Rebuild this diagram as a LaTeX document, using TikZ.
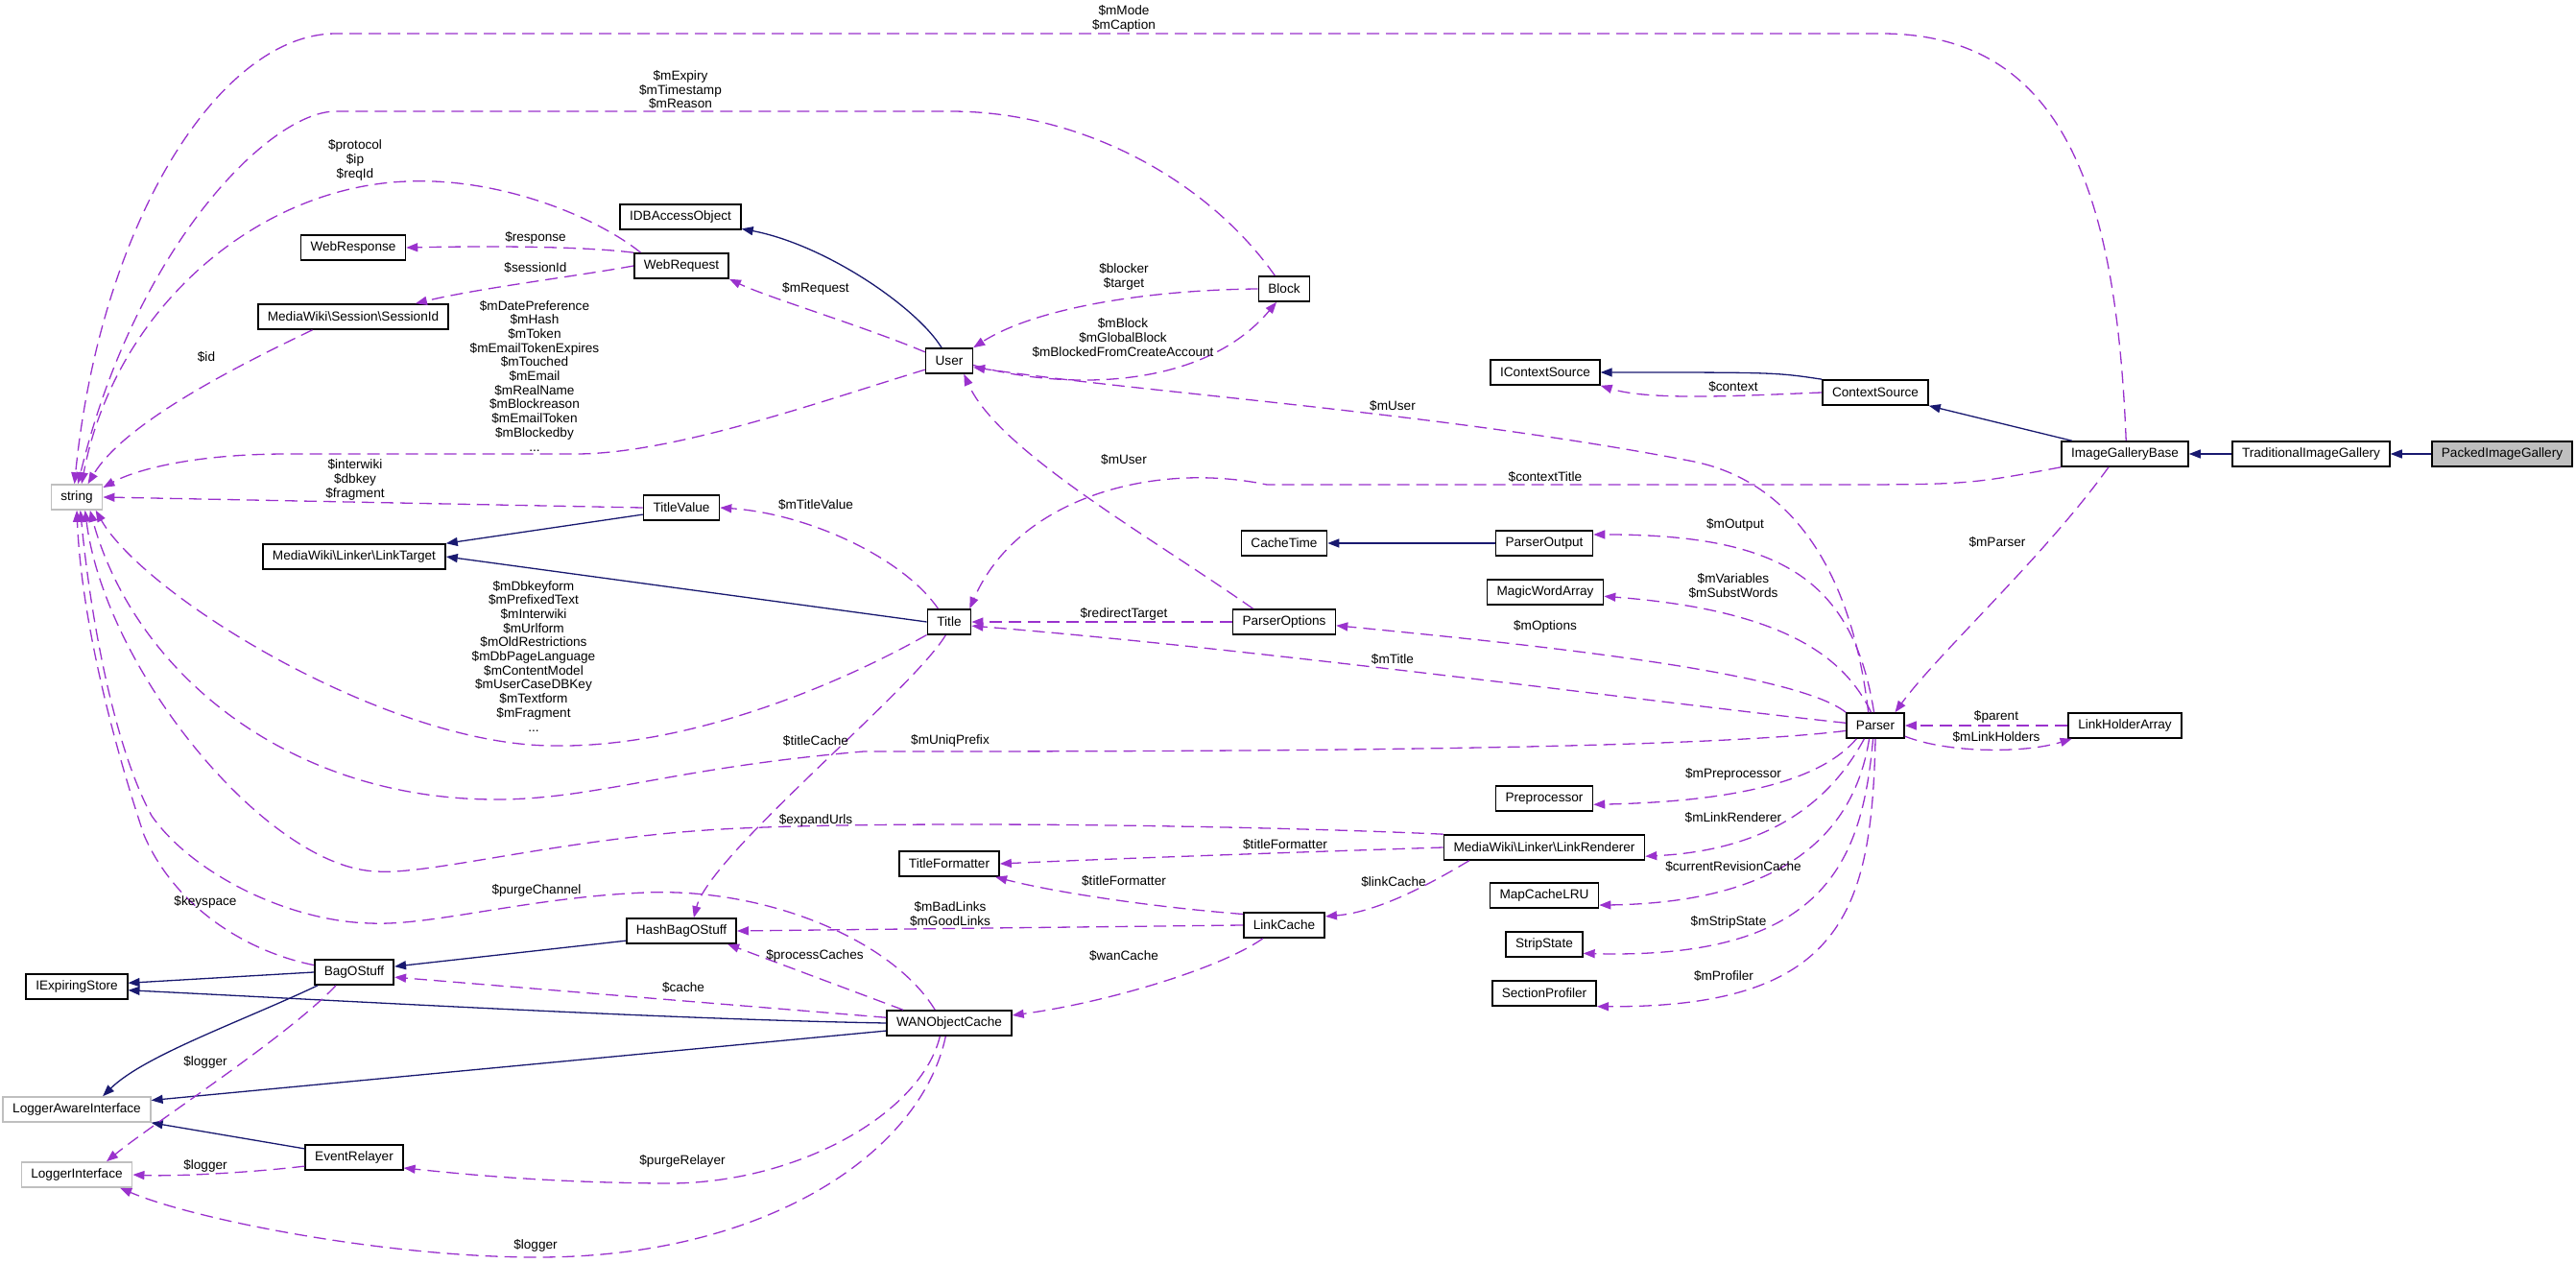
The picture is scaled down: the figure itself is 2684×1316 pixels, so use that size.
\documentclass[tikz,border=0pt]{standalone}
\usepackage{fontspec}
\setmainfont{Liberation Sans}
\usepackage{tikz}
\usetikzlibrary{arrows.meta}
\definecolor{usecol}{HTML}{9A32CD}
\definecolor{isacol}{HTML}{191970}
\definecolor{extgray}{HTML}{BFBFBF}
\newcommand{\dox}{\fontsize{6.8pt}{7.35pt}\selectfont}

\begin{document}
\begin{tikzpicture}[x=0.5pt, y=-0.5pt,
  cls/.style={draw=black, fill=white, line width=0.8pt, minimum height=13pt, inner xsep=5pt, inner ysep=0pt, font=\dox},
  ext/.style={cls, draw=extgray},
  focus/.style={cls, fill=extgray},
  lbl/.style={font=\dox, align=center, inner sep=0pt},
  uses/.style={draw=usecol, line width=0.65pt, dash pattern=on 6.5pt off 3.5pt, -{Triangle[length=6pt,width=4.5pt]}},
  isa/.style={draw=isacol, line width=0.65pt, -{Triangle[length=6pt,width=4.5pt]}}]

\useasboundingbox (0,0) rectangle (2684,1316);

% classes, right part
\node[focus] (packed) at (2607,473) {PackedImageGallery};
\node[cls] (trad) at (2408,473) {TraditionalImageGallery};
\node[cls] (igbase) at (2214,473) {ImageGalleryBase};
\node[cls] (ctxsrc) at (1954,409) {ContextSource};
\node[cls] (ictx) at (1610,388) {IContextSource};
\node[cls] (parser) at (1954,756) {Parser};
\node[cls] (lha) at (2214,756) {LinkHolderArray};

% classes, middle part
\node[cls] (user) at (989,376) {User};
\node[cls] (block) at (1338,301) {Block};
\node[cls] (idb) at (709,226) {IDBAccessObject};
\node[cls] (webreq) at (710,277) {WebRequest};
\node[cls] (webresp) at (368,258) {WebResponse};
\node[cls] (sessid) at (368,330) {MediaWiki\textbackslash Session\textbackslash SessionId};
\node[ext] (string) at (80,518) {string};
\node[cls] (tvalue) at (710,529) {TitleValue};
\node[cls] (ltarget) at (369,580) {MediaWiki\textbackslash Linker\textbackslash LinkTarget};
\node[cls] (title) at (989,648) {Title};
\node[cls] (popts) at (1338,648) {ParserOptions};
\node[cls] (ctime) at (1338,566) {CacheTime};
\node[cls] (pout) at (1609,566) {ParserOutput};
\node[cls] (mwarr) at (1610,617) {MagicWordArray};
\node[cls] (preproc) at (1609,832) {Preprocessor};
\node[cls] (lrend) at (1609,883) {MediaWiki\textbackslash Linker\textbackslash LinkRenderer};
\node[cls] (tform) at (989,900) {TitleFormatter};
\node[cls] (lcache) at (1338,964) {LinkCache};
\node[cls] (mclru) at (1609,933) {MapCacheLRU};
\node[cls] (strip) at (1609,984) {StripState};
\node[cls] (sprof) at (1609,1035) {SectionProfiler};

% classes, lower left part
\node[cls] (hbag) at (710,970) {HashBagOStuff};
\node[cls] (bag) at (369,1013) {BagOStuff};
\node[cls] (iexp) at (80,1028) {IExpiringStore};
\node[cls] (wan) at (989,1066) {WANObjectCache};
\node[ext] (lai) at (80,1156) {LoggerAwareInterface};
\node[ext] (li) at (80,1224) {LoggerInterface};
\node[cls] (evrel) at (369,1206) {EventRelayer};

% inheritance
\draw[isa] (packed.west) -- (trad.east);
\draw[isa] (trad.west) -- (igbase.east);
\draw[isa] (igbase.166) -- (ctxsrc.south east);
\draw[isa] (ctxsrc.north west) .. controls (1850,388) .. (ictx.east);
\draw[isa] (user.120) .. controls (955,320) and (860,255) .. (idb.-11);
\draw[isa] (tvalue.190) -- (ltarget.north east);
\draw[isa] (title.west) -- (ltarget.east);
\draw[isa] (pout.west) -- (ctime.east);
\draw[isa] (hbag.190) -- (bag.8);
\draw[isa] (bag.west) -- (iexp.4);
\draw[isa] (bag.-160) .. controls (250,1065) and (150,1100) .. (lai.27);
\draw[isa] (wan.west) .. controls (700,1062) and (400,1045) .. (iexp.-4);
\draw[isa] (wan.187) -- (lai.7);
\draw[isa] (evrel.170) -- (lai.south east);

% members into string
\draw[uses] (igbase.85) .. controls (2205,200) and (2150,35) .. (1960,35) -- (350,35) .. controls (230,35) and (105,230) .. (string.100);
\draw[uses] (block.125) .. controls (1260,190) and (1130,116) .. (990,116) -- (350,116) .. controls (280,116) and (140,260) .. (string.85);
\draw[uses] (webreq.162) .. controls (620,225) and (520,185) .. (425,189) .. controls (270,194) and (120,320) .. (string.70);
\draw[uses] (sessid.-162) .. controls (250,380) and (130,440) .. (string.50);
\draw[uses] (user.200) .. controls (850,420) and (700,473) .. (600,473) -- (300,473) .. controls (200,473) and (140,490) .. (string.20);
\draw[uses] (tvalue.west) -- (string.east);
\draw[uses] (title.-150) .. controls (880,710) and (720,780) .. (574,777) .. controls (400,775) and (150,620) .. (string.-35);
\draw[uses] (parser.190) .. controls (1750,783) and (1200,783) .. (900,783) .. controls (700,800) and (620,833) .. (517,833) .. controls (300,833) and (140,700) .. (string.-45);
\draw[uses] (lrend.north west) .. controls (1300,860) and (950,855) .. (772,863) .. controls (600,870) and (450,912) .. (393,908) .. controls (280,905) and (110,700) .. (string.-58);
\draw[uses] (wan.137) .. controls (930,980) and (800,925) .. (673,930) .. controls (550,935) and (450,965) .. (386,962) .. controls (300,960) and (200,910) .. (158,850) .. controls (120,780) and (95,650) .. (string.-75);
\draw[uses] (bag.170) .. controls (250,990) and (180,940) .. (150,870) .. controls (120,780) and (85,650) .. (string.-90);

% members, upper part
\draw[uses] (webreq.north west) .. controls (610,257) and (520,256) .. (webresp.east);
\draw[uses] (webreq.west) .. controls (600,288) and (500,300) .. (sessid.12);
\draw[uses] (user.160) .. controls (900,340) and (800,310) .. (webreq.south east);
\draw[uses] (block.west) .. controls (1200,302) and (1080,320) .. (user.north east);
\draw[uses] (user.-10) .. controls (1100,405) and (1250,410) .. (block.-120);
\draw[uses] (title.130) .. controls (940,580) and (840,535) .. (tvalue.east);
\draw[uses] (title.-105) .. controls (950,720) and (740,890) .. (hbag.47);
\draw[uses] (popts.west) -- (title.east);
\draw[uses] (popts.157) .. controls (1200,560) and (1040,470) .. (user.-42);
\draw[uses] (igbase.south west) .. controls (2050,505) .. (1900,505) -- (1320,505) .. controls (1200,480) and (1060,520) .. (title.33);
\draw[uses] (ctxsrc.west) .. controls (1820,412) and (1720,418) .. (ictx.south east);

% members of Parser
\draw[uses] (parser.118) .. controls (1930,600) and (1870,500) .. (1760,480) .. controls (1500,430) and (1200,410) .. (user.-15);
\draw[uses] (parser.96) .. controls (1930,600) and (1850,557) .. (pout.10);
\draw[uses] (parser.108) .. controls (1920,680) and (1850,635) .. (mwarr.-4);
\draw[uses] (parser.north west) .. controls (1870,700) and (1600,672) .. (popts.-4);
\draw[uses] (parser.175) .. controls (1750,735) and (1300,675) .. (title.-10);
\draw[uses] (parser.-145) .. controls (1900,810) and (1820,835) .. (preproc.-7);
\draw[uses] (parser.-130) .. controls (1915,820) and (1860,885) .. (lrend.-5);
\draw[uses] (parser.-115) .. controls (1935,850) and (1880,940) .. (mclru.-10);
\draw[uses] (parser.-100) .. controls (1940,900) and (1900,1000) .. (strip.-13);
\draw[uses] (parser.-90) .. controls (1950,950) and (1920,1050) .. (sprof.-14);
\draw[uses] (igbase.-141) .. controls (2130,580) and (2020,680) .. (parser.34);
\draw[uses] (lha.west) -- (parser.east);
\draw[uses] (parser.-20) .. controls (2030,785) and (2110,785) .. (lha.-166);

% members, lower part
\draw[uses] (lrend.west) .. controls (1350,888) and (1150,895) .. (tform.east);
\draw[uses] (lrend.-170) .. controls (1500,915) and (1440,950) .. (lcache.12);
\draw[uses] (lcache.165) .. controls (1200,945) and (1100,930) .. (tform.-16);
\draw[uses] (lcache.west) -- (hbag.east);
\draw[uses] (lcache.-148) .. controls (1270,1010) and (1150,1045) .. (wan.7);
\draw[uses] (wan.164) -- (hbag.-16);
\draw[uses] (wan.175) -- (bag.-7);
\draw[uses] (wan.-125) .. controls (960,1160) and (830,1235) .. (690,1233) .. controls (560,1232) and (470,1222) .. (evrel.-12);
\draw[uses] (wan.-105) .. controls (960,1200) and (800,1310) .. (560,1310) .. controls (400,1310) and (200,1270) .. (li.-17);
\draw[uses] (bag.-144) .. controls (300,1080) and (160,1170) .. (li.24);
\draw[uses] (evrel.190) .. controls (260,1222) and (180,1226) .. (li.east);

% edge labels
\node[lbl] (lmode) at (1171,19.5) {\$mMode\\\$mCaption};
\node[lbl] (lexpiry) at (709,93.5) {\$mExpiry\\\$mTimestamp\\\$mReason};
\node[lbl] (lproto) at (370,167) {\$protocol\\\$ip\\\$reqId};
\node[lbl] (lresp) at (558,248) {\$response};
\node[lbl] (lsess) at (558,279) {\$sessionId};
\node[lbl] (lreq) at (850,301) {\$mRequest};
\node[lbl] (lid) at (215,372) {\$id};
\node[lbl] (luserstr) at (557,391.5) {\$mDatePreference\\\$mHash\\\$mToken\\\$mEmailTokenExpires\\\$mTouched\\\$mEmail\\\$mRealName\\\$mBlockreason\\\$mEmailToken\\\$mBlockedby\\...};
\node[lbl] (lblocker) at (1171,288.5) {\$blocker\\\$target};
\node[lbl] (lmblock) at (1170,352) {\$mBlock\\\$mGlobalBlock\\\$mBlockedFromCreateAccount};
\node[lbl] (lpuser) at (1451,423) {\$mUser};
\node[lbl] (lctx) at (1806,403) {\$context};
\node[lbl] (linter) at (370,500) {\$interwiki\\\$dbkey\\\$fragment};
\node[lbl] (ltv) at (850,526) {\$mTitleValue};
\node[lbl] (ldbkey) at (556,683.5) {\$mDbkeyform\\\$mPrefixedText\\\$mInterwiki\\\$mUrlform\\\$mOldRestrictions\\\$mDbPageLanguage\\\$mContentModel\\\$mUserCaseDBKey\\\$mTextform\\\$mFragment\\...};
\node[lbl] (ltcache) at (850,772) {\$titleCache};
\node[lbl] (louser) at (1171,479) {\$mUser};
\node[lbl] (lctitle) at (1610,497) {\$contextTitle};
\node[lbl] (lredir) at (1171,640) {\$redirectTarget};
\node[lbl] (lopts) at (1610,653) {\$mOptions};
\node[lbl] (lmtitle) at (1451,687) {\$mTitle};
\node[lbl] (luniq) at (990,772) {\$mUniqPrefix};
\node[lbl] (lout) at (1808,547) {\$mOutput};
\node[lbl] (lvars) at (1806,610.5) {\$mVariables\\\$mSubstWords};
\node[lbl] (lparser) at (2081,565) {\$mParser};
\node[lbl] (lparent) at (2080,747) {\$parent};
\node[lbl] (lholders) at (2080,768) {\$mLinkHolders};
\node[lbl] (lpre) at (1806,807) {\$mPreprocessor};
\node[lbl] (lrendl) at (1806,852) {\$mLinkRenderer};
\node[lbl] (lcur) at (1806,903) {\$currentRevisionCache};
\node[lbl] (lstrip) at (1801,961) {\$mStripState};
\node[lbl] (lprof) at (1796,1017) {\$mProfiler};
\node[lbl] (lexpand) at (850,855) {\$expandUrls};
\node[lbl] (ltfa) at (1339,880) {\$titleFormatter};
\node[lbl] (ltfb) at (1171,918) {\$titleFormatter};
\node[lbl] (llc) at (1452,919) {\$linkCache};
\node[lbl] (lbad) at (990,952.5) {\$mBadLinks\\\$mGoodLinks};
\node[lbl] (lwan) at (1171,996) {\$wanCache};
\node[lbl] (lkey) at (214,940) {\$keyspace};
\node[lbl] (lpch) at (559,928) {\$purgeChannel};
\node[lbl] (lproc) at (849,996) {\$processCaches};
\node[lbl] (lcachel) at (712,1029) {\$cache};
\node[lbl] (lloga) at (214,1107) {\$logger};
\node[lbl] (llogb) at (214,1215) {\$logger};
\node[lbl] (lprel) at (711,1210) {\$purgeRelayer};
\node[lbl] (llogc) at (558,1298) {\$logger};

\end{tikzpicture}
\end{document}
